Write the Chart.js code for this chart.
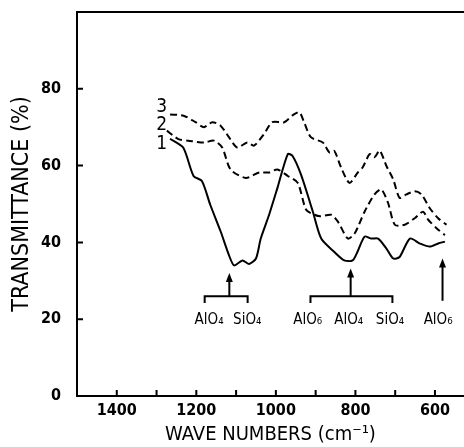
<!DOCTYPE html>
<html>
<head>
<meta charset="utf-8">
<script src="https://cdn.jsdelivr.net/npm/chart.js@4/dist/chart.umd.min.js"></script>
<style>
  html, body { margin: 0; padding: 0; background: #fff; overflow: hidden; }
</style>
</head>
<body>
<canvas id="irChart" width="464" height="447"></canvas>
<script>
// spectrum 1 (solid)
const wave1 = [1266, 1233, 1207, 1186, 1165, 1139, 1118, 1105, 1084, 1067, 1050, 1038, 1017, 996, 970, 958, 937, 907, 886, 853, 828, 807, 795, 777, 760, 743, 722, 705, 689, 663, 638, 613, 592, 575];
const trans1 = [67, 64.7, 57.3, 56, 49.8, 42.9, 36.7, 34, 35.3, 34.4, 35.8, 41, 47.2, 54.2, 63, 62.5, 57.7, 48, 41, 37.5, 35.3, 35.3, 37.5, 41.5, 41, 41, 38.4, 35.8, 36.2, 41, 39.7, 38.9, 39.7, 40.2];

// spectrum 2 (dashed)
const wave2 = [1274, 1245, 1220, 1181, 1156, 1135, 1114, 1076, 1042, 1017, 996, 970, 945, 924, 903, 888, 861, 844, 819, 802, 777, 752, 735, 718, 701, 676, 651, 630, 617, 596, 575];
const trans2 = [69.1, 66.9, 66.5, 66, 66.5, 64.7, 59, 56.8, 58.2, 58.2, 59, 57.3, 55.5, 48.5, 47.2, 46.8, 47.2, 45.4, 41, 42.3, 48, 52.5, 53.8, 50.3, 44.6, 44.6, 46.3, 48, 45.9, 43.7, 41.9];

// spectrum 3 (dashed)
const wave3 = [1266, 1232, 1202, 1181, 1160, 1139, 1118, 1097, 1072, 1055, 1030, 1009, 979, 958, 941, 929, 912, 882, 865, 853, 836, 815, 794, 782, 764, 752, 739, 722, 705, 689, 672, 651, 634, 613, 592, 571];
const trans3 = [73.3, 73, 71.3, 70, 71.3, 70.4, 67.4, 64.7, 66, 65.2, 68.2, 71.3, 71.3, 73.1, 73.9, 71.3, 67.4, 66, 63.4, 63.8, 59.5, 55.5, 58.2, 59.5, 63, 62.2, 63.9, 59.9, 56.4, 51.6, 52.5, 53.3, 52.5, 48.9, 46.3, 44.6];

const curveNames = ["1", "2", "3"];
const curveNameWave = 1287;
const curveNameTrans = [65.5, 70.5, 75.3];

const xTickLabels = [1400, 1200, 1000, 800, 600];
const xTickMarks = [1400, 1300, 1200, 1100, 1000, 900, 800, 700, 600];
const yTickLabels = [0, 20, 40, 60, 80];
const yTickMarks = [20, 40, 60, 80];

// band assignments
const bracketFrom = [1179, 913];
const bracketTo = [1071, 707];
const bracketLevel = 26;
const bracketFoot = 24.2;
const arrowWave = [1117, 812, 581];
const arrowTip = [32, 33.2, 35.8];
const arrowBase = [26, 26, 24.8];
const bandNames = ["AlO₄", "SiO₄", "AlO₆", "AlO₄", "SiO₄", "AlO₆"];
const bandWave = [1168, 1072, 920, 817, 713, 592];
const bandTrans = 19.8;

const toPoints = (w, t) => w.map((v, i) => ({ x: v, y: t[i] }));

const annotations = {
  id: "annotations",
  afterDatasetsDraw(chart) {
    const ctx = chart.ctx;
    const x = chart.scales.x;
    const y = chart.scales.y;
    ctx.save();
    ctx.strokeStyle = "#000";
    ctx.fillStyle = "#000";
    ctx.lineWidth = 2;

    // inward tick marks
    ctx.beginPath();
    xTickMarks.forEach(v => {
      const px = x.getPixelForValue(v);
      ctx.moveTo(px, y.bottom);
      ctx.lineTo(px, y.bottom - 6);
    });
    yTickMarks.forEach(v => {
      const py = y.getPixelForValue(v);
      ctx.moveTo(x.left, py);
      ctx.lineTo(x.left + 6, py);
    });
    ctx.stroke();

    // brackets
    ctx.beginPath();
    bracketFrom.forEach((f, i) => {
      const x1 = x.getPixelForValue(f);
      const x2 = x.getPixelForValue(bracketTo[i]);
      const yl = y.getPixelForValue(bracketLevel);
      const yf = y.getPixelForValue(bracketFoot);
      ctx.moveTo(x1, yf);
      ctx.lineTo(x1, yl);
      ctx.lineTo(x2, yl);
      ctx.lineTo(x2, yf);
    });
    ctx.stroke();

    // arrows
    arrowWave.forEach((w, i) => {
      const px = x.getPixelForValue(w);
      const tip = y.getPixelForValue(arrowTip[i]);
      const base = y.getPixelForValue(arrowBase[i]);
      ctx.beginPath();
      ctx.moveTo(px, base);
      ctx.lineTo(px, tip + 6);
      ctx.stroke();
      ctx.beginPath();
      ctx.moveTo(px, tip);
      ctx.lineTo(px - 3.5, tip + 9);
      ctx.lineTo(px + 3.5, tip + 9);
      ctx.closePath();
      ctx.fill();
    });

    // band labels
    ctx.font = "15px 'DejaVu Sans Condensed', 'DejaVu Sans', sans-serif";
    ctx.textAlign = "center";
    ctx.textBaseline = "middle";
    bandNames.forEach((n, i) => {
      ctx.fillText(n, x.getPixelForValue(bandWave[i]), y.getPixelForValue(bandTrans));
    });

    // curve numbers
    ctx.font = "19px 'DejaVu Sans Condensed', 'DejaVu Sans', sans-serif";
    curveNames.forEach((n, i) => {
      ctx.fillText(n, x.getPixelForValue(curveNameWave), y.getPixelForValue(curveNameTrans[i]));
    });
    ctx.restore();
  }
};

const tickFont = { family: "'DejaVu Sans Condensed', 'DejaVu Sans', sans-serif", size: 16, weight: "bold" };
const titleFont = { family: "'DejaVu Sans Condensed', 'DejaVu Sans', sans-serif", size: 20 };

new Chart(document.getElementById("irChart"), {
  type: "line",
  data: {
    datasets: [
      { label: "1", data: toPoints(wave1, trans1), borderColor: "#000", borderWidth: 2, pointRadius: 0, tension: 0.25 },
      { label: "2", data: toPoints(wave2, trans2), borderColor: "#000", borderWidth: 2, borderDash: [7, 4], pointRadius: 0, tension: 0.25 },
      { label: "3", data: toPoints(wave3, trans3), borderColor: "#000", borderWidth: 2, borderDash: [7, 4], pointRadius: 0, tension: 0.25 }
    ]
  },
  options: {
    responsive: false,
    animation: false,
    layout: { padding: 0 },
    plugins: { legend: { display: false }, tooltip: { enabled: false } },
    scales: {
      x: {
        type: "linear",
        reverse: true,
        min: 527,
        max: 1500,
        afterBuildTicks: s => { s.ticks = xTickLabels.map(v => ({ value: v })); },
        afterFit: s => { s.height = 51; s.paddingLeft = 0; s.paddingRight = 0; },
        grid: { display: false },
        border: { display: true, color: "#000", width: 2 },
        ticks: { color: "#000", font: tickFont, padding: -3, maxRotation: 0, callback: v => String(v) },
        title: { display: true, text: "WAVE NUMBERS (cm⁻¹)", color: "#000", font: titleFont, padding: { top: 0, bottom: 0 } }
      },
      xTop: {
        type: "linear",
        position: "top",
        display: true,
        afterFit: s => { s.height = 12; s.paddingLeft = 0; s.paddingRight = 0; },
        grid: { display: false },
        border: { display: true, color: "#000", width: 2 },
        ticks: { display: false }
      },
      y: {
        min: 0,
        max: 100,
        afterBuildTicks: s => { s.ticks = yTickLabels.map(v => ({ value: v })); },
        afterFit: s => { s.width = 77; s.paddingTop = 0; s.paddingBottom = 0; },
        grid: { display: false },
        border: { display: true, color: "#000", width: 2 },
        ticks: { color: "#000", font: tickFont, padding: 8, callback: v => String(v) },
        title: { display: true, text: "TRANSMITTANCE (%)", color: "#000", font: { family: titleFont.family, size: 23 }, padding: { top: 8, bottom: 0 } }
      }
    }
  },
  plugins: [annotations]
});
</script>
</body>
</html>
